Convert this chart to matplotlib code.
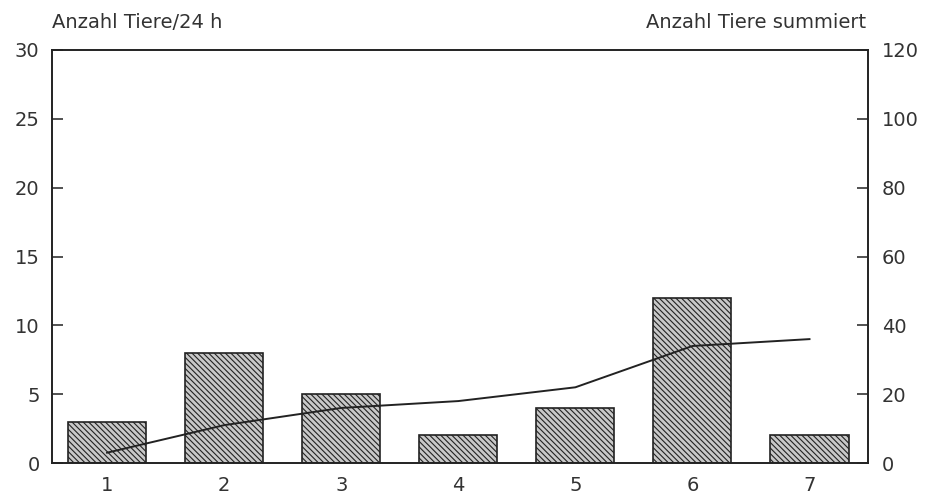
import matplotlib
matplotlib.use("Agg")
import matplotlib.pyplot as plt

days = [1, 2, 3, 4, 5, 6, 7]
per_day = [3, 8, 5, 2, 4, 12, 2]
cumulative = [3, 11, 16, 18, 22, 34, 36]
left_ticks = [0, 5, 10, 15, 20, 25, 30]
right_ticks = [0, 20, 40, 60, 80, 100, 120]

plt.rcParams['font.family'] = ['DejaVu Sans']
plt.rcParams['hatch.linewidth'] = 0.8
plt.rcParams['hatch.color'] = '#222222'

fig = plt.figure(figsize=(9.26, 4.99), dpi=100)
ax = fig.add_axes([0.0562, 0.0721, 0.8812, 0.8277])
ax2 = ax.twinx()

ax.bar(days, per_day, width=0.667, facecolor='#c8c8c8', edgecolor='#222222',
       linewidth=1.2, hatch='\\\\\\\\\\\\', zorder=2)
ax2.plot(days, cumulative, color='#222222', linewidth=1.4, zorder=3)

ax.set_xlim(0.53, 7.5)
ax.set_ylim(0, 30)
ax2.set_ylim(0, 120)
ax.set_xticks(days)
ax.set_xticklabels([str(d) for d in days])
ax.set_yticks(left_ticks)
ax2.set_yticks(right_ticks)

for a in (ax, ax2):
    for s in a.spines.values():
        s.set_linewidth(1.2)
        s.set_color('#222222')

ax.tick_params(axis='x', length=0, pad=9, labelsize=14, colors='#333333')
ax.tick_params(axis='y', direction='in', length=8, width=1.2, pad=9, labelsize=14, colors='#333333')
ax2.tick_params(axis='y', direction='in', length=8, width=1.2, pad=10, labelsize=14, colors='#333333')

fig.text(0.0562, 0.935, 'Anzahl Tiere/24 h', ha='left', va='bottom', fontsize=14, color='#333333')
fig.text(0.935, 0.935, 'Anzahl Tiere summiert', ha='right', va='bottom', fontsize=14, color='#333333')

fig.savefig('out.png', dpi=100, facecolor='white')
